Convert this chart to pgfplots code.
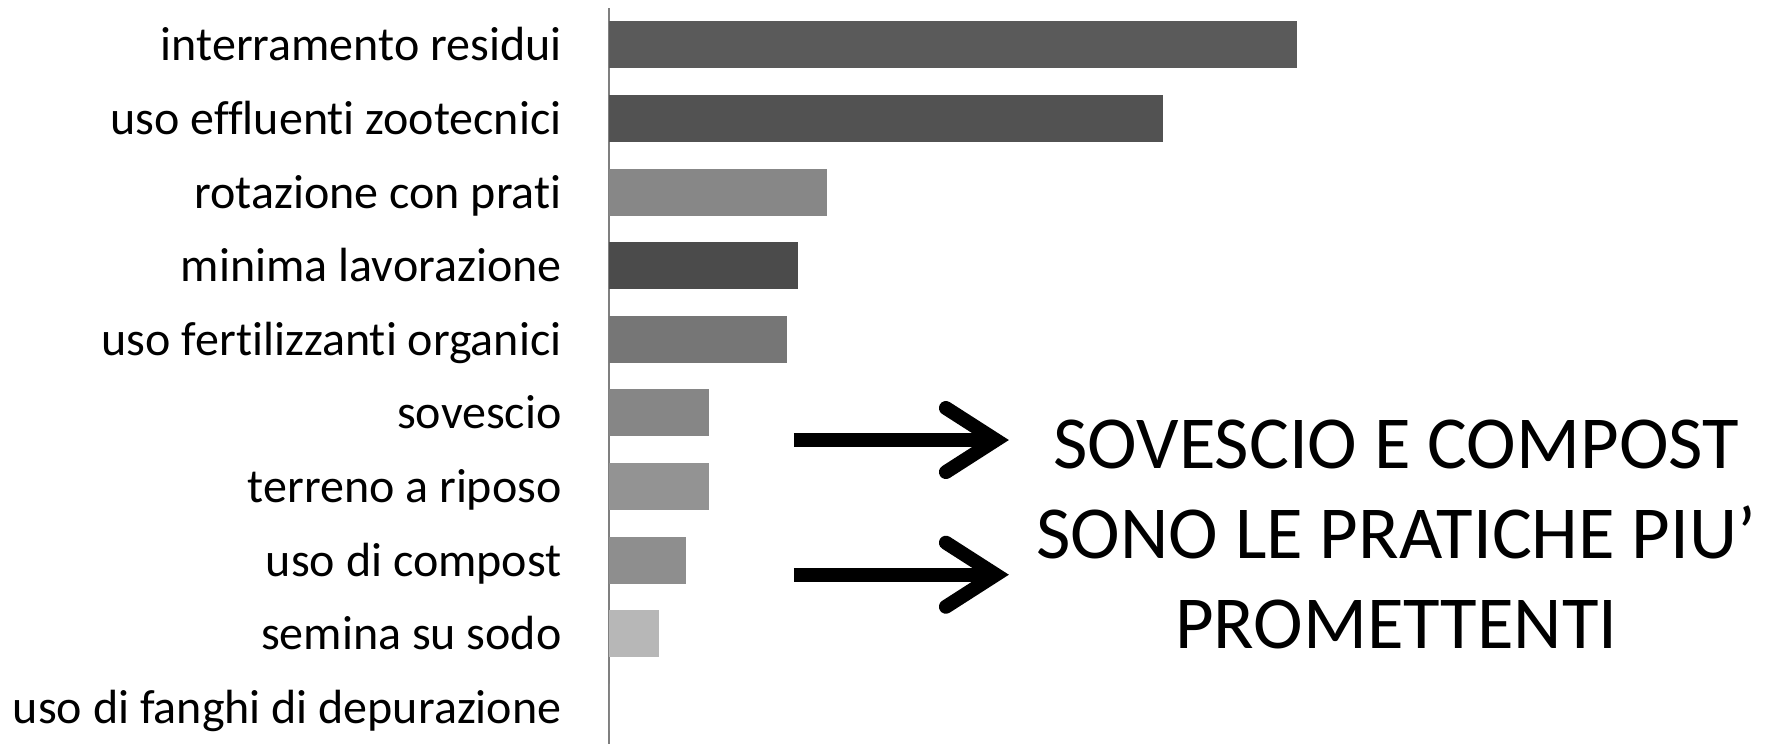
\documentclass[border=0pt]{standalone}
\usepackage{pgfplots}
\pgfplotsset{compat=1.18}
\usepackage{fontspec}
\setmainfont{Carlito}[Ligatures=NoCommon]
\definecolor{b1}{HTML}{5A5A5A}
\definecolor{b2}{HTML}{525252}
\definecolor{b3}{HTML}{878787}
\definecolor{b4}{HTML}{4B4B4B}
\definecolor{b5}{HTML}{767676}
\definecolor{b6}{HTML}{868686}
\definecolor{b7}{HTML}{939393}
\definecolor{b8}{HTML}{8E8E8E}
\definecolor{b9}{HTML}{B7B7B7}
\definecolor{axgray}{HTML}{7F7F7F}
\begin{document}
\begin{tikzpicture}
\useasboundingbox (-304.5pt,0pt) rectangle (580pt,372pt);
\begin{axis}[
  at={(0pt,0pt)}, anchor=south west,
  scale only axis,
  width=564pt, height=368pt,
  xmin=0, xmax=100,
  ymin=-0.5, ymax=9.5,
  y dir=reverse,
  xbar,
  bar width=23.5pt,
  axis x line=none,
  axis y line*=left,
  y axis line style={color=axgray, line width=1pt, -},
  major tick length=0pt,
  ytick={0,...,9},
  yticklabels={interramento residui,uso effluenti zootecnici,rotazione con prati,minima lavorazione,uso fertilizzanti organici,sovescio,terreno a riposo,uso di compost,semina su sodo,uso di fanghi di depurazione},
  yticklabel style={font=\fontsize{24}{29}\selectfont, inner sep=0pt, anchor=base east, xshift=-23.5pt, yshift=-8pt},
  clip=false,
]
\addplot[fill=b1, draw=none, bar shift=0pt] coordinates {(61.0,0)};
\addplot[fill=b2, draw=none, bar shift=0pt] coordinates {(49.1,1)};
\addplot[fill=b3, draw=none, bar shift=0pt] coordinates {(19.3,2)};
\addplot[fill=b4, draw=none, bar shift=0pt] coordinates {(16.8,3)};
\addplot[fill=b5, draw=none, bar shift=0pt] coordinates {(15.8,4)};
\addplot[fill=b6, draw=none, bar shift=0pt] coordinates {(8.9,5)};
\addplot[fill=b7, draw=none, bar shift=0pt] coordinates {(8.9,6)};
\addplot[fill=b8, draw=none, bar shift=0pt] coordinates {(6.8,7)};
\addplot[fill=b9, draw=none, bar shift=0pt] coordinates {(4.4,8)};
\addplot[fill=b9, draw=none, bar shift=0pt] coordinates {(0,9)};
% arrows
\draw[line width=7pt] (axis cs:16.4,5.37) -- (axis cs:33.6,5.37);
\draw[line width=7pt, line cap=round, line join=miter] (axis cs:29.87,4.935) -- (axis cs:34.3,5.37) -- (axis cs:29.87,5.805);
\draw[line width=7pt] (axis cs:16.4,7.20) -- (axis cs:33.6,7.20);
\draw[line width=7pt, line cap=round, line join=miter] (axis cs:29.87,6.765) -- (axis cs:34.3,7.20) -- (axis cs:29.87,7.635);
\node[align=center, font=\fontsize{37.4}{45}\selectfont] at (axis cs:69.8,6.65) {SOVESCIO E COMPOST\\SONO LE PRATICHE PIU’\\PROMETTENTI};
\end{axis}
\end{tikzpicture}
\end{document}
